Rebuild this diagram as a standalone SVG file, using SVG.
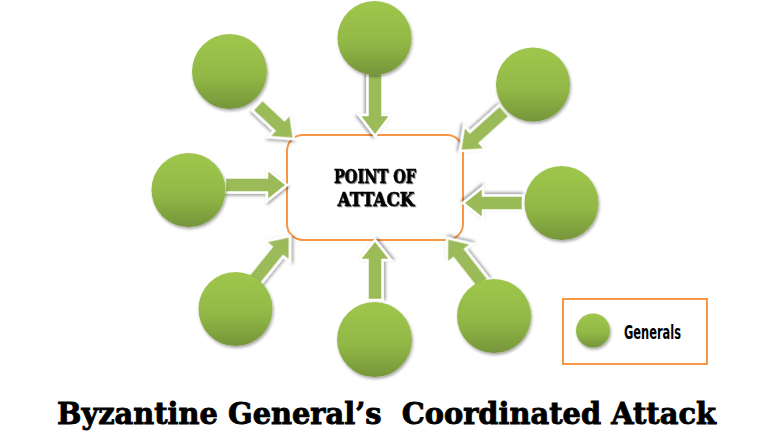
<svg xmlns="http://www.w3.org/2000/svg" width="768" height="443" viewBox="0 0 768 443">
<defs>
<linearGradient id="g" x1="0" y1="0" x2="0" y2="1">
<stop offset="0" stop-color="#9FC64C"/>
<stop offset="0.55" stop-color="#92B946"/>
<stop offset="1" stop-color="#76953A"/>
</linearGradient>
<filter id="sh" x="-30%" y="-30%" width="160%" height="160%">
<feDropShadow dx="1" dy="2" stdDeviation="1.5" flood-color="#000" flood-opacity="0.35"/>
</filter>
<filter id="tsh" x="-10%" y="-20%" width="130%" height="150%">
<feDropShadow dx="1" dy="1" stdDeviation="0.6" flood-color="#000" flood-opacity="0.45"/>
</filter>
</defs>
<style>
.gen{fill:url(#g);filter:url(#sh)}
.arr{fill:#9BBB59;stroke:#fff;stroke-width:2.5;stroke-linejoin:miter;filter:url(#sh)}
.box{fill:#fff;stroke:#F79646;stroke-width:2}
.ctr{font-family:"DejaVu Serif",serif;font-weight:bold;font-size:18px;fill:#000;stroke:#000;stroke-width:0.6;filter:url(#tsh)}
.ttl{font-family:"DejaVu Serif",serif;font-weight:bold;font-size:30px;fill:#000;stroke:#000;stroke-width:0.9}
.lg{font-family:"DejaVu Sans Condensed","DejaVu Sans",sans-serif;font-weight:bold;font-size:20px;fill:#000}
</style>
<rect width="768" height="443" fill="#fff"/>
<g id="target">
<rect class="box" x="287" y="135" width="176" height="105" rx="16"/>
<text class="ctr" x="375" y="183" text-anchor="middle" textLength="82" lengthAdjust="spacingAndGlyphs">POINT OF</text>
<text class="ctr" x="376" y="206" text-anchor="middle" textLength="77" lengthAdjust="spacingAndGlyphs">ATTACK</text>
</g>
<g id="connectors">
<polygon class="arr" transform="translate(375,136) rotate(90)" points="-63,-7.5 -21,-7.5 -21,-16 0,0 -21,16 -21,7.5 -63,7.5"/>
<polygon class="arr" transform="translate(294,139) rotate(43)" points="-50,-7.5 -20,-7.5 -20,-16 0,0 -20,16 -20,7.5 -50,7.5"/>
<polygon class="arr" transform="translate(460,151) rotate(138)" points="-60,-7.5 -20,-7.5 -20,-16 0,0 -20,16 -20,7.5 -60,7.5"/>
<polygon class="arr" transform="translate(287,185) rotate(0)" points="-62,-7.5 -20,-7.5 -20,-16 0,0 -20,16 -20,7.5 -62,7.5"/>
<polygon class="arr" transform="translate(463,203) rotate(180)" points="-60,-7.5 -20,-7.5 -20,-16 0,0 -20,16 -20,7.5 -60,7.5"/>
<polygon class="arr" transform="translate(290,236) rotate(-51)" points="-58,-7.5 -20,-7.5 -20,-16 0,0 -20,16 -20,7.5 -58,7.5"/>
<polygon class="arr" transform="translate(375,240) rotate(-90)" points="-60,-7.5 -20,-7.5 -20,-16 0,0 -20,16 -20,7.5 -60,7.5"/>
<polygon class="arr" transform="translate(447,238) rotate(-128)" points="-58,-7.5 -20,-7.5 -20,-16 0,0 -20,16 -20,7.5 -58,7.5"/>
</g>
<g id="general-top"><circle class="gen" cx="374.5" cy="38" r="37"/></g>
<g id="general-top-left"><circle class="gen" cx="229.5" cy="71.5" r="37.5"/></g>
<g id="general-top-right"><circle class="gen" cx="533" cy="84.5" r="37"/></g>
<g id="general-left"><circle class="gen" cx="188.5" cy="190" r="37"/></g>
<g id="general-right"><circle class="gen" cx="561.5" cy="203" r="37"/></g>
<g id="general-bottom-left"><circle class="gen" cx="235.5" cy="309" r="37"/></g>
<g id="general-bottom"><circle class="gen" cx="374.5" cy="339.5" r="37.5"/></g>
<g id="general-bottom-right"><circle class="gen" cx="494" cy="316" r="37"/></g>
<g id="legend">
<rect x="563" y="299" width="144" height="65" fill="#fff" stroke="#F79646" stroke-width="2"/>
<circle class="gen" cx="593" cy="330.5" r="17"/>
<text class="lg" x="624" y="339" textLength="57" lengthAdjust="spacingAndGlyphs">Generals</text>
</g>
<text class="ttl" x="57" y="424" textLength="659" lengthAdjust="spacingAndGlyphs" xml:space="preserve">Byzantine General’s  Coordinated Attack</text>
</svg>
